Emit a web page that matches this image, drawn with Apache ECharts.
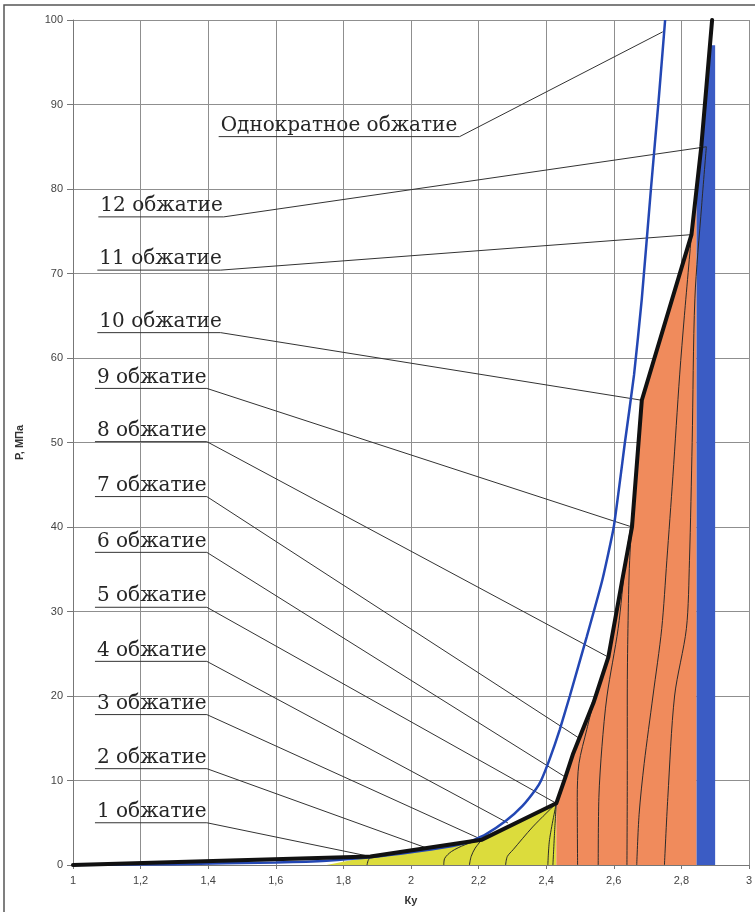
<!DOCTYPE html>
<html>
<head>
<meta charset="utf-8">
<script src="https://cdn.jsdelivr.net/npm/echarts@6/dist/echarts.min.js"></script>
<style>
  html, body { margin: 0; padding: 0; background: #ffffff; }
  #chart { width: 755px; height: 912px; }
</style>
</head>
<body>
<div id="chart"></div>
<script>
// Coefficient Ку versus pressure P: staged compaction vs single compaction

// Envelope of staged compaction (thick black line)
const stagedEnvelope = [
  [1.00, 0], [1.88, 1.0], [2.047, 2.0], [2.21, 3.0], [2.43, 7.3], [2.457, 10.4],
  [2.48, 13.2], [2.498, 15.0], [2.54, 19.2], [2.584, 24.6], [2.625, 33.7],
  [2.654, 40.0], [2.683, 55.0], [2.83, 74.6], [2.859, 85.0], [2.891, 100]
];

// Single compaction curve (blue line)
const singleCompaction = [
  [1.00, 0], [1.30, 0.1], [1.60, 0.3], [1.75, 0.5], [1.90, 1.0], [2.00, 1.5],
  [2.10, 2.1], [2.17, 2.7], [2.22, 3.6], [2.28, 5.2], [2.33, 7.0], [2.37, 9.0],
  [2.385, 10.0], [2.41, 12.5], [2.44, 16.0], [2.47, 20.0], [2.52, 27.0], [2.566, 33.7],
  [2.60, 40.0], [2.633, 50.0], [2.66, 58.0], [2.683, 67.0], [2.71, 80.0],
  [2.733, 90.6], [2.752, 100]
];

// Shaded zones (upper boundary of each zone)
const zoneLow = [[1.75, 0], [1.88, 1.0], [2.047, 2.0], [2.21, 3.0], [2.43, 7.3]];
const zoneMid = [
  [2.43, 7.3], [2.48, 13.2], [2.54, 19.2], [2.584, 24.6], [2.625, 33.7],
  [2.654, 40.0], [2.683, 55.0], [2.83, 74.6], [2.845, 80.0]
];
const zoneHigh = [[2.845, 80.0], [2.859, 85.0], [2.875, 92.0], [2.887, 97.0], [2.9, 97.0]];

// Individual stage curves inside the zones
const stageCurves = [
  [[1.87, 0], [1.873, 0.5], [1.88, 1.0]],
  [[2.097, 0], [2.10, 0.8], [2.12, 1.6], [2.16, 2.4], [2.21, 3.0]],
  [[2.173, 0], [2.178, 1.0], [2.19, 2.0], [2.21, 3.0]],
  [[2.28, 0], [2.285, 1.0], [2.302, 1.8], [2.36, 4.5], [2.43, 7.3]],
  [[2.405, 0], [2.41, 3.0], [2.43, 7.3]],
  [[2.42, 0], [2.425, 4.0], [2.43, 7.3]],
  [[2.493, 0], [2.492, 8.0], [2.497, 12.0], [2.52, 16.0], [2.54, 19.2]],
  [[2.554, 0], [2.556, 8.0], [2.565, 14.0], [2.58, 20.0], [2.613, 28.0], [2.635, 36.0], [2.654, 41.0]],
  [[2.639, 0], [2.64, 10.0], [2.64, 20.0], [2.642, 28.0], [2.647, 36.0], [2.66, 44.0], [2.675, 52.0], [2.683, 55.0]],
  [[2.668, 0], [2.675, 6.0], [2.69, 12.0], [2.716, 20.0], [2.742, 28.0], [2.757, 36.0], [2.775, 46.0], [2.795, 58.0], [2.809, 65.0], [2.83, 74.6]],
  [[2.75, 0], [2.76, 8.0], [2.78, 20.0], [2.815, 28.0], [2.824, 36.0], [2.832, 50.0], [2.84, 67.0], [2.86, 78.0], [2.874, 85.0]]
];

// Callout labels and the points they refer to
const calloutText = [
  '1 обжатие', '2 обжатие', '3 обжатие', '4 обжатие', '5 обжатие', '6 обжатие',
  '7 обжатие', '8 обжатие', '9 обжатие', '10 обжатие', '11 обжатие', '12 обжатие',
  'Однократное обжатие'
];
const calloutLevel = [5.0, 11.4, 17.8, 24.1, 30.5, 37.0, 43.6, 50.1, 56.4, 63.0, 70.4, 76.7, 86.2];
const calloutStart = [1.065, 1.065, 1.065, 1.065, 1.065, 1.065, 1.065, 1.065, 1.065, 1.072, 1.072, 1.075, 1.431];
const calloutEnd   = [1.396, 1.396, 1.396, 1.396, 1.396, 1.396, 1.396, 1.396, 1.396, 1.437, 1.437, 1.446, 2.144];
const calloutTargetX = [1.88, 2.047, 2.21, 2.287, 2.43, 2.457, 2.498, 2.584, 2.654, 2.683, 2.83, 2.874, 2.745];
const calloutTargetP = [1.0, 2.0, 3.0, 4.97, 7.3, 10.4, 15.0, 24.6, 40.0, 55.0, 74.6, 85.0, 98.6];

// Axis ticks
const xMin = 1, xMax = 3, xStep = 0.2;
const yMin = 0, yMax = 100, yStep = 10;

const calloutData = calloutText.map((t, i) => [
  calloutStart[i], calloutLevel[i], calloutEnd[i], calloutTargetX[i], calloutTargetP[i], i
]);

function zoneSeries(data, color, z) {
  return {
    type: 'line', data: data, symbol: 'none', silent: true, z: z,
    lineStyle: { width: 0 }, areaStyle: { color: color, opacity: 1 }
  };
}

const series = [
  zoneSeries(zoneLow, '#dcdc3c', 2),
  zoneSeries(zoneMid, '#f08b5c', 2),
  zoneSeries(zoneHigh, '#3b5cc4', 3)
];

stageCurves.forEach(c => {
  series.push({
    type: 'line', data: c, symbol: 'none', smooth: 0.3, silent: true, z: 4,
    lineStyle: { color: '#2a2a2a', width: 1 }
  });
});

series.push({
  type: 'custom', z: 5, silent: true, clip: false,
  data: calloutData,
  encode: { x: 0, y: 1 },
  renderItem: function (params, api) {
    const a = api.coord([api.value(0), api.value(1)]);
    const b = api.coord([api.value(2), api.value(1)]);
    const t = api.coord([api.value(3), api.value(4)]);
    const idx = api.value(5);
    return {
      type: 'group',
      children: [
        {
          type: 'polyline',
          shape: { points: [a, b, t] },
          style: { stroke: '#333333', lineWidth: 1, fill: null }
        },
        {
          type: 'text',
          x: a[0] + 2, y: a[1] - 1,
          style: {
            text: calloutText[idx],
            font: '20px "DejaVu Serif"',
            fill: '#262626',
            textAlign: 'left',
            textVerticalAlign: 'bottom'
          }
        }
      ]
    };
  }
});

series.push({
  type: 'line', data: singleCompaction, symbol: 'none', smooth: 0.15,
  silent: true, z: 6,
  lineStyle: { color: '#2347b4', width: 2.5 }
});

series.push({
  type: 'line', data: stagedEnvelope, symbol: 'none', silent: true, z: 7,
  lineStyle: { color: '#111111', width: 4, join: 'round', cap: 'round' }
});

const chart = echarts.init(document.getElementById('chart'), null, { renderer: 'canvas' });
chart.setOption({
  animation: false,
  backgroundColor: '#ffffff',
  grid: { left: 73, right: 2, top: 20, bottom: 47, containLabel: false },
  xAxis: {
    type: 'value', min: xMin, max: xMax, interval: xStep,
    name: 'Ку', nameLocation: 'middle', nameGap: 30,
    nameTextStyle: { fontFamily: 'Liberation Sans', fontSize: 11, fontWeight: 'bold', color: '#333' },
    axisLine: { show: true, lineStyle: { color: '#777', width: 1 } },
    axisTick: { show: true, length: 4, lineStyle: { color: '#777' } },
    axisLabel: {
      fontFamily: 'Liberation Sans', fontSize: 11, color: '#444', margin: 10,
      formatter: v => String(Math.round(v * 10) / 10).replace('.', ',')
    },
    splitLine: { show: true, lineStyle: { color: '#8f8f8f', width: 1 } }
  },
  yAxis: {
    type: 'value', min: yMin, max: yMax, interval: yStep,
    name: 'P, МПа', nameLocation: 'middle', nameGap: 48, nameRotate: 90,
    nameTextStyle: { fontFamily: 'Liberation Sans', fontSize: 11, fontWeight: 'bold', color: '#333' },
    axisLine: { show: true, lineStyle: { color: '#777', width: 1 } },
    axisTick: { show: true, length: 6, lineStyle: { color: '#777' } },
    axisLabel: { fontFamily: 'Liberation Sans', fontSize: 11, color: '#444', margin: 10 },
    splitLine: { show: true, lineStyle: { color: '#8f8f8f', width: 1 } }
  },
  graphic: [{
    type: 'polyline', silent: true, z: 10,
    shape: { points: [[4, 912], [4, 5], [755, 5]] },
    style: { stroke: '#555', lineWidth: 1.5, fill: null }
  }],
  series: series
});
</script>
</body>
</html>
